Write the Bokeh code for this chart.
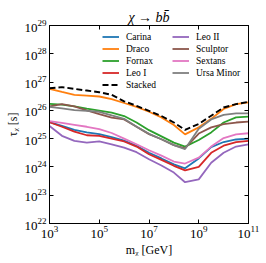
import numpy as np
from bokeh.plotting import figure
from bokeh.models import LogAxis, FixedTicker, Legend, LegendItem, Range1d, CustomJSTickFormatter
from bokeh.embed import file_html
from bokeh.resources import INLINE

# log10 of dark matter mass [GeV]
log_mass = [3.0, 3.5, 4.0, 4.5, 5.0, 5.5, 6.0, 6.5, 7.0, 7.5, 8.0, 8.45, 9.0, 9.5, 10.0, 10.5, 11.0]

# log10 of lifetime limit [s]
carina  = [25.58, 25.45, 25.31, 25.22, 25.16, 25.05, 24.93, 24.75, 24.50, 24.30, 24.09, 23.95, 24.30, 24.70, 24.88, 24.97, 25.00]
draco   = [26.76, 26.65, 26.55, 26.52, 26.49, 26.40, 26.26, 26.12, 25.95, 25.75, 25.48, 25.15, 25.40, 25.70, 26.05, 26.22, 26.28]
fornax  = [26.23, 26.20, 26.14, 26.06, 25.99, 25.92, 25.80, 25.57, 25.30, 25.08, 24.86, 24.72, 24.95, 25.22, 25.57, 25.75, 25.78]
leo_i   = [25.58, 25.42, 25.25, 25.12, 25.10, 25.00, 24.90, 24.72, 24.45, 24.25, 24.04, 23.88, 24.00, 24.50, 24.75, 24.88, 24.92]
leo_ii  = [25.45, 25.10, 24.92, 24.86, 24.90, 24.80, 24.68, 24.52, 24.27, 24.05, 23.80, 23.46, 23.56, 24.15, 24.50, 24.72, 24.80]
sculptor = [26.14, 26.22, 26.14, 26.00, 25.87, 25.74, 25.68, 25.42, 25.16, 24.98, 24.77, 24.66, 25.18, 25.40, 25.51, 25.57, 25.60]
sextans = [25.62, 25.56, 25.49, 25.42, 25.34, 25.20, 25.00, 24.80, 24.59, 24.40, 24.19, 24.12, 24.33, 24.72, 25.02, 25.15, 25.19]
ursa_minor = [26.12, 26.07, 26.01, 25.98, 25.95, 25.82, 25.70, 25.42, 25.17, 24.98, 24.77, 24.63, 25.35, 25.68, 25.84, 25.89, 25.89]
stacked = [26.78, 26.82, 26.76, 26.70, 26.64, 26.55, 26.32, 26.16, 25.98, 25.80, 25.57, 25.31, 25.52, 25.81, 26.10, 26.22, 26.30]

x_ticks = [1e3, 1e5, 1e7, 1e9, 1e11]
y_ticks = [1e22, 1e23, 1e24, 1e25, 1e26, 1e27, 1e28, 1e29]

series = [
    ("Carina", carina, "#1f77b4"),
    ("Draco", draco, "#ff7f0e"),
    ("Fornax", fornax, "#2ca02c"),
    ("Leo I", leo_i, "#d62728"),
    ("Leo II", leo_ii, "#9467bd"),
    ("Sculptor", sculptor, "#8c564b"),
    ("Sextans", sextans, "#e377c2"),
    ("Ursa Minor", ursa_minor, "#7f7f7f"),
]

FONT = "Liberation Serif"

p = figure(width=264, height=260, x_axis_type="log", y_axis_type="log",
           x_range=Range1d(1e3, 1e11), y_range=Range1d(1e22, 1e29),
           output_backend="svg", toolbar_location=None,
           min_border_left=49, min_border_right=16, min_border_top=25, min_border_bottom=37)
p.background_fill_color = "white"
p.border_fill_color = "white"
p.grid.visible = False
p.outline_line_color = "black"
p.outline_line_width = 1

p.title.text = "\u03c7 \u2192 bb\u0304"
p.title.align = "center"
p.title.text_font = FONT
p.title.text_font_size = "14px"
p.title.text_font_style = "italic"
p.title.text_color = "black"
p.title.standoff = 1
p.title.offset = 0

xm = 10 ** np.array(log_mass)
renderers = {}
for name, vals, color in series:
    r = p.line(xm, 10 ** np.array(vals), line_color=color, line_width=1.8)
    renderers[name] = r
rs = p.line(xm, 10 ** np.array(stacked), line_color="black", line_width=1.9, line_dash="6 3")
renderers["Stacked"] = rs

def style_axis(ax):
    ax.major_tick_in = 4
    ax.major_tick_out = 0
    ax.minor_tick_line_color = None
    ax.axis_line_color = "black"
    ax.major_tick_line_color = "black"
    ax.major_label_text_font = FONT
    ax.major_label_text_font_size = "13px"
    ax.major_label_text_color = "black"
    ax.axis_label_text_font = FONT
    ax.axis_label_text_font_style = "normal"
    ax.axis_label_text_font_size = "12px"
    ax.axis_label_text_color = "black"

xa = p.xaxis[0]
xa.ticker = FixedTicker(ticks=x_ticks)
xa.axis_label = "m\u1d6a [GeV]"
style_axis(xa)
xa.major_label_standoff = 2
xa.axis_label_standoff = 2

ya = p.yaxis[0]
ya.ticker = FixedTicker(ticks=y_ticks)
ya.axis_label = "\u03c4\u1d6a [s]"
style_axis(ya)
ya.major_label_standoff = 3
ya.axis_label_standoff = 1

blank = CustomJSTickFormatter(code="return ''")
top = LogAxis(ticker=FixedTicker(ticks=x_ticks), formatter=blank)
style_axis(top)
top.major_label_standoff = 0
p.add_layout(top, "above")
right = LogAxis(ticker=FixedTicker(ticks=y_ticks), formatter=blank)
style_axis(right)
right.major_label_standoff = 0
p.add_layout(right, "right")

def make_legend(names, loc):
    lg = Legend(items=[LegendItem(label=n, renderers=[renderers[n]]) for n in names],
                location=loc)
    lg.label_text_font = FONT
    lg.label_text_font_size = "9.5px"
    lg.label_text_color = "black"
    lg.label_standoff = 7
    lg.glyph_width = 17
    lg.glyph_height = 11
    lg.label_height = 11
    lg.spacing = 1
    lg.padding = 0
    lg.margin = 0
    lg.border_line_color = None
    lg.background_fill_alpha = 0
    return lg

p.add_layout(make_legend(["Carina", "Draco", "Fornax", "Leo I", "Stacked"], (53, 133)))
p.add_layout(make_legend(["Leo II", "Sculptor", "Sextans", "Ursa Minor"], (123, 145)))

open("out.html", "w").write(file_html(p, INLINE))
